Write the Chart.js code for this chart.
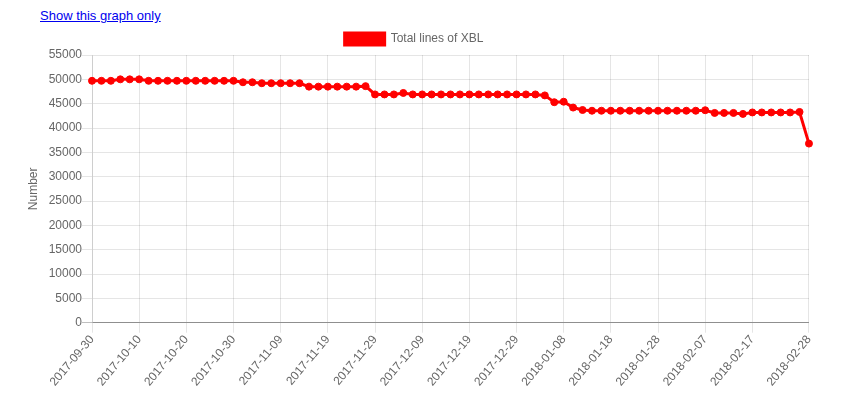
<!DOCTYPE html>
<html>
<head>
<meta charset="utf-8">
<script src="https://cdn.jsdelivr.net/npm/chart.js@4.4.0/dist/chart.umd.min.js"></script>
<style>
    body { margin: 0; background: #fff; font-family: "Liberation Sans", Arial, sans-serif; }
    #only-link { position: absolute; left: 40px; top: 8px; font-size: 13px; color: #0000ee; text-decoration: underline; }
    #chart-box { position: absolute; left: 8px; top: 23px; width: 812px; height: 366px; }
</style>
</head>
<body>
<a id="only-link" href="#">Show this graph only</a>
<div id="chart-box"><canvas id="xblChart"></canvas></div>
<script>
const dates = [
    '2017-09-30', '2017-10-02', '2017-10-04', '2017-10-06', '2017-10-08', '2017-10-10', '2017-10-12', '2017-10-14',
    '2017-10-16', '2017-10-18', '2017-10-20', '2017-10-22', '2017-10-24', '2017-10-26', '2017-10-28', '2017-10-30',
    '2017-11-01', '2017-11-03', '2017-11-05', '2017-11-07', '2017-11-09', '2017-11-11', '2017-11-13', '2017-11-15',
    '2017-11-17', '2017-11-19', '2017-11-21', '2017-11-23', '2017-11-25', '2017-11-27', '2017-11-29', '2017-12-01',
    '2017-12-03', '2017-12-05', '2017-12-07', '2017-12-09', '2017-12-11', '2017-12-13', '2017-12-15', '2017-12-17',
    '2017-12-19', '2017-12-21', '2017-12-23', '2017-12-25', '2017-12-27', '2017-12-29', '2017-12-31', '2018-01-02',
    '2018-01-04', '2018-01-06', '2018-01-08', '2018-01-10', '2018-01-12', '2018-01-14', '2018-01-16', '2018-01-18',
    '2018-01-20', '2018-01-22', '2018-01-24', '2018-01-26', '2018-01-28', '2018-01-30', '2018-02-01', '2018-02-03',
    '2018-02-05', '2018-02-07', '2018-02-09', '2018-02-11', '2018-02-13', '2018-02-15', '2018-02-17', '2018-02-19',
    '2018-02-21', '2018-02-23', '2018-02-25', '2018-02-27', '2018-02-28'
];

const totalLines = [
    49700, 49700, 49700, 50000, 50000, 50000, 49700, 49700,
    49700, 49700, 49700, 49700, 49700, 49700, 49700, 49700,
    49400, 49400, 49200, 49200, 49200, 49200, 49200, 48500,
    48500, 48500, 48500, 48500, 48500, 48600, 46900, 46900,
    46900, 47200, 46900, 46900, 46900, 46900, 46900, 46900,
    46900, 46900, 46900, 46900, 46900, 46900, 46900, 46900,
    46700, 45300, 45400, 44200, 43700, 43550, 43550, 43550,
    43550, 43550, 43550, 43550, 43550, 43550, 43550, 43550,
    43550, 43650, 43100, 43100, 43100, 42900, 43200, 43200,
    43200, 43200, 43200, 43300, 36800
];

// dates that get a tick + gridline on the x axis
const tickDates = [
    '2017-09-30', '2017-10-10', '2017-10-20', '2017-10-30', '2017-11-09', '2017-11-19', '2017-11-29', '2017-12-09',
    '2017-12-19', '2017-12-29', '2018-01-08', '2018-01-18', '2018-01-28', '2018-02-07', '2018-02-17', '2018-02-28'
];

Chart.defaults.font.family = "'Liberation Sans', Arial, sans-serif";
Chart.defaults.font.size = 12;
Chart.defaults.color = '#666';

const ctx = document.getElementById('xblChart').getContext('2d');
const xblChart = new Chart(ctx, {
    type: 'line',
    data: {
        labels: dates,
        datasets: [{
            label: 'Total lines of XBL',
            data: totalLines,
            borderColor: 'rgb(255, 0, 0)',
            backgroundColor: 'rgb(255, 0, 0)',
            fill: false,
            tension: 0,
            borderWidth: 3,
            pointRadius: 3.5,
            pointBorderWidth: 1,
            pointBackgroundColor: 'rgb(255, 0, 0)'
        }]
    },
    options: {
        animation: false,
        responsive: true,
        maintainAspectRatio: false,
        layout: { padding: { left: 6, right: 6 } },
        plugins: {
            legend: {
                labels: { boxWidth: 40, boxHeight: 12, color: '#666' }
            },
            tooltip: { enabled: false }
        },
        scales: {
            x: {
                afterBuildTicks: scale => {
                    scale.ticks = tickDates.map(d => ({ value: dates.indexOf(d) }));
                },
                grid: { color: 'rgba(0,0,0,0.1)', tickLength: 10 },
                border: { color: 'rgba(0,0,0,0.25)' },
                ticks: { autoSkip: false, minRotation: 50, maxRotation: 50, padding: 0 }
            },
            y: {
                min: 0,
                max: 55000,
                afterFit: scale => { scale.width = 78; },
                grid: {
                    color: c => c.tick && c.tick.value === 0 ? 'rgba(0,0,0,0.25)' : 'rgba(0,0,0,0.1)',
                    tickLength: 10
                },
                border: { color: 'rgba(0,0,0,0.1)' },
                ticks: { stepSize: 5000, padding: 0, callback: value => String(value) },
                title: { display: true, text: 'Number', color: '#666', padding: { top: 12, bottom: 4 } }
            }
        }
    }
});
</script>
</body>
</html>
